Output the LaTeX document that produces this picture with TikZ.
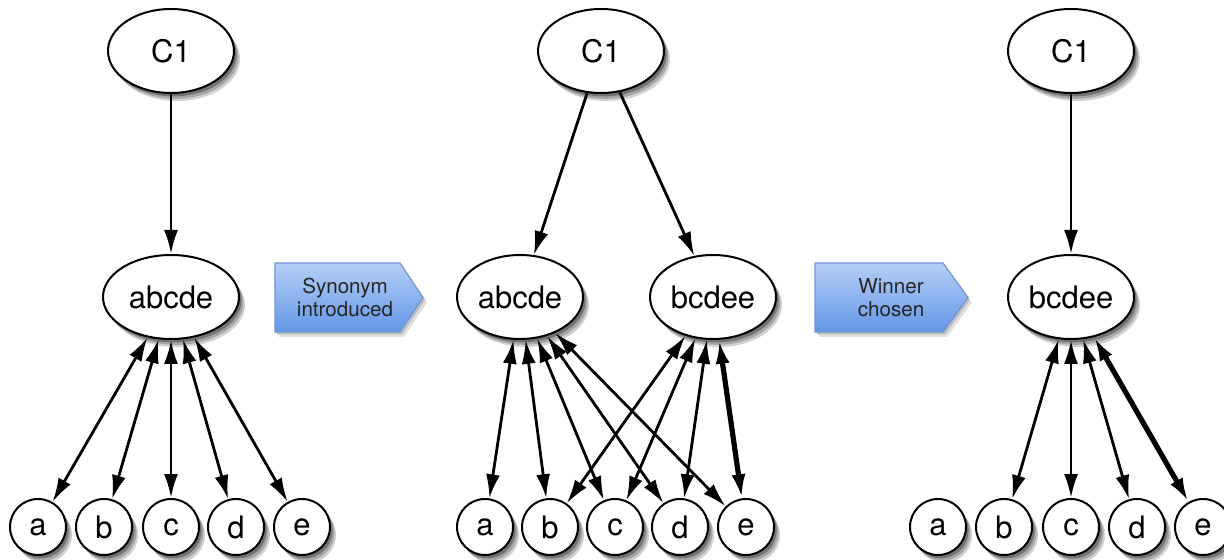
\documentclass[tikz,border=0pt]{standalone}
\usepackage{fontspec}
\setmainfont{TeX Gyre Heros}
\usetikzlibrary{arrows.meta,shapes.geometric}
\definecolor{bannertop}{HTML}{B6CFF6}
\definecolor{bannerbot}{HTML}{6296E6}
\definecolor{bannerline}{HTML}{6F96D2}
\begin{document}
\begin{tikzpicture}[x=0.5pt,y=-0.5pt,
  >={Latex[length=12pt,width=7pt]},
  shadowed/.style={
    preaction={fill=black!18, draw=none, transform canvas={shift={(3pt,-4pt)}}},
    preaction={fill=black!35, draw=none, transform canvas={shift={(2.2pt,-2.9pt)}}},
    preaction={fill=black!55, draw=none, transform canvas={shift={(1.3pt,-1.7pt)}}}},
  concept/.style={ellipse, draw=black, line width=1pt, fill=white, minimum width=63pt,
    minimum height=42pt, inner sep=0pt, font=\fontsize{15.5}{17}\selectfont, shadowed},
  leaf/.style={circle, draw=black, line width=1pt, fill=white, minimum size=28pt,
    inner sep=0pt, font=\fontsize{15.5}{17}\selectfont, shadowed},
  link/.style={<->, line width=1.4pt},
  strong/.style={<->, line width=2.6pt},
  down/.style={->, line width=1.4pt},
  bannertext/.style={font=\fontsize{10.3}{11.2}\selectfont, align=center, text=black!85},
  banner/.style={top color=bannertop, bottom color=bannerbot, draw=bannerline, line width=0.6pt}
]
\useasboundingbox (0,0) rectangle (1224,560);

% ---------- panel 1 ----------
\node[concept] (c1a) at (171,51) {C1};
\node[concept, minimum width=68pt] (abcde1) at (171,297) {abcde};
\foreach \n/\x in {a/38,b/104,c/171,d/236,e/302}
  \node[leaf] (p1\n) at (\x,527) {\n};
\draw[down] (c1a) -- (abcde1);
\foreach \n in {a,b,c,d,e}
  \draw[link] (abcde1) -- (p1\n);

% ---------- banner 1 ----------
\fill[black!12] (279,268) -- (404,268) -- (427,302.5) -- (404,337) -- (279,337) -- cycle;
\fill[black!25] (277,265.5) -- (402,265.5) -- (425,300) -- (402,334.5) -- (277,334.5) -- cycle;
\shade[banner] (275,263) -- (400,263) -- (423,297.5) -- (400,332) -- (275,332) -- cycle;
\node[bannertext] (syn) at (345,297.5) {Synonym\\introduced};

% ---------- panel 2 ----------
\node[concept] (c1b) at (601,51) {C1};
\node[concept] (abcde2) at (520,297) {abcde};
\node[concept] (bcdee2) at (713,297) {bcdee};
\foreach \n/\x in {a/485,b/550,c/615,d/680,e/746}
  \node[leaf] (p2\n) at (\x,527) {\n};
\draw[down] (c1b) -- (abcde2);
\draw[down] (c1b) -- (bcdee2);
\foreach \n in {a,b,c,d,e}
  \draw[link] (abcde2) -- (p2\n);
\foreach \n in {b,c,d}
  \draw[link] (bcdee2) -- (p2\n);
\draw[strong] (bcdee2) -- (p2e);

% ---------- banner 2 ----------
\fill[black!12] (819,268) -- (947,268) -- (972,302.5) -- (947,337) -- (819,337) -- cycle;
\fill[black!25] (817,265.5) -- (945,265.5) -- (970,300) -- (945,334.5) -- (817,334.5) -- cycle;
\shade[banner] (815,263) -- (943,263) -- (968,297.5) -- (943,332) -- (815,332) -- cycle;
\node[bannertext] (win) at (891,297.5) {Winner\\chosen};

% ---------- panel 3 ----------
\node[concept] (c1c) at (1071,51) {C1};
\node[concept] (bcdee3) at (1071,297) {bcdee};
\foreach \n/\x in {a/938,b/1004,c/1071,d/1137,e/1203}
  \node[leaf] (p3\n) at (\x,527) {\n};
\draw[down] (c1c) -- (bcdee3);
\foreach \n in {b,c,d}
  \draw[link] (bcdee3) -- (p3\n);
\draw[strong] (bcdee3) -- (p3e);
\end{tikzpicture}
\end{document}
